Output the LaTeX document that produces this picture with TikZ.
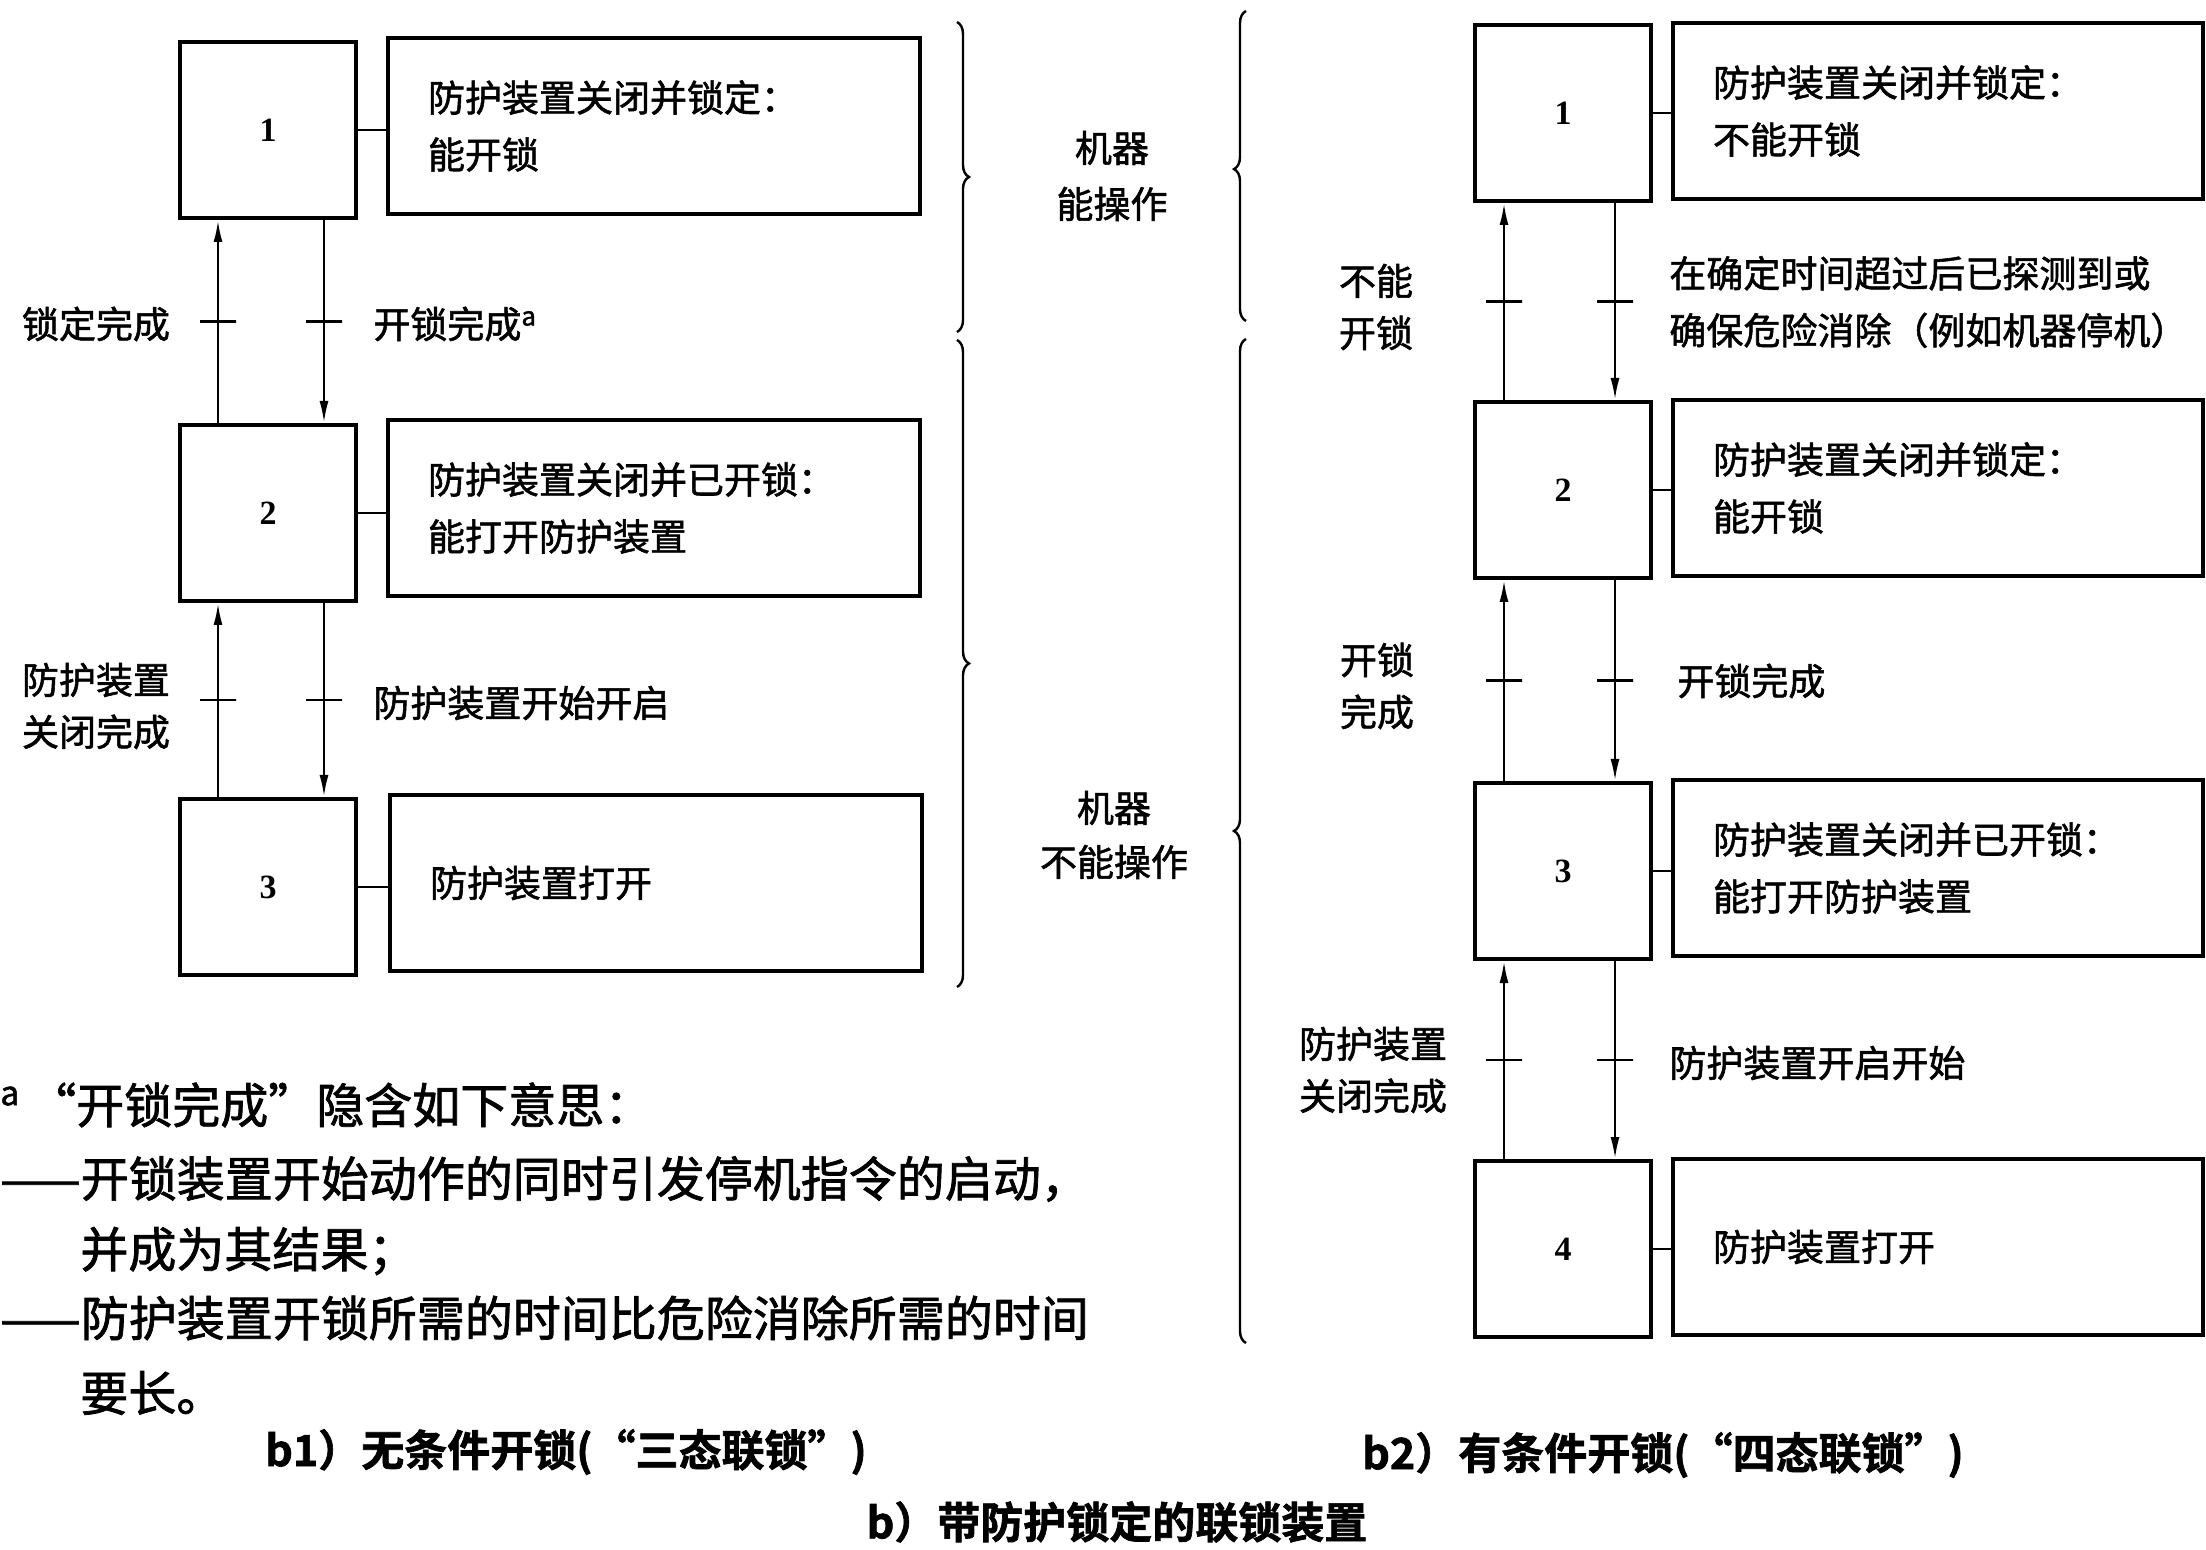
\documentclass[tikz,border=0pt]{standalone}
\usepackage{fontspec}
\setmainfont[FakeBold=1.5,BoldFont={Noto Sans CJK SC Bold}]{Noto Sans CJK SC}
\newfontfamily\numfont{Liberation Serif}
\usetikzlibrary{arrows.meta,decorations.pathreplacing}
\begin{document}
\begin{tikzpicture}[x=0.5pt,y=-0.5pt,
  numbox/.style={draw,line width=2pt,minimum width=88pt,minimum height=88pt,inner sep=0pt,font=\numfont\bfseries\fontsize{17}{17}\selectfont},
  txtbox/.style={draw,line width=2pt,minimum height=88pt,inner xsep=20pt,inner ysep=0pt,align=left,font=\fontsize{18.5}{28.5}\selectfont},
  lbl/.style={inner sep=0pt,font=\fontsize{18.5}{26}\selectfont,align=center},
  fntxt/.style={inner sep=0pt,anchor=west,font=\fontsize{24}{36}\selectfont},
  captxt/.style={inner sep=0pt,font=\bfseries\fontsize{21.5}{24}\selectfont},
  link/.style={line width=1.2pt},
  arr/.style={line width=1.2pt,-{Latex[length=11pt,width=4.5pt]}},
  tickmark/.style={draw,line width=1.2pt,minimum width=18pt,minimum height=0pt,inner sep=0pt},
  brc/.style={line width=1.2pt,decorate},
]
\useasboundingbox[fill=white] (0,0) rectangle (2206,1550);

% ---------- b1 ----------
\node[numbox] (a1) at (268,130) {1};
\node[txtbox,text width=226pt] (ta1) at (654,126) {防护装置关闭并锁定：\\能开锁};
\node[numbox] (a2) at (268,513) {2};
\node[txtbox,text width=226pt] (ta2) at (654,508) {防护装置关闭并已开锁：\\能打开防护装置};
\node[numbox] (a3) at (268,887) {3};
\node[txtbox,text width=226pt] (ta3) at (656,883) {防护装置打开};

\draw[link] (a1.east) -- (a1.east -| ta1.west);
\draw[link] (a2.east) -- (a2.east -| ta2.west);
\draw[link] (a3.east) -- (a3.east -| ta3.west);

\draw[arr] ([xshift=20pt]a2.north west) -- node[tickmark] (ka1) {} ([xshift=20pt]a1.south west);
\draw[arr] ([xshift=-17pt]a1.south east) -- node[tickmark] (ka2) {} ([xshift=-17pt]a2.north east);
\draw[arr] ([xshift=20pt]a3.north west) -- node[tickmark] (ka3) {} ([xshift=20pt]a2.south west);
\draw[arr] ([xshift=-17pt]a2.south east) -- node[tickmark] (ka4) {} ([xshift=-17pt]a3.north east);

\node[lbl] (la1) at (96,324) {锁定完成};
\node[lbl,anchor=west] (la2) at (373,324) {开锁完成\textsuperscript{a}};
\node[lbl] (la3) at (96,706) {防护装置\\关闭完成};
\node[lbl,anchor=west] (la4) at (373,703) {防护装置开始开启};

% ---------- braces ----------
\draw[brc,decoration={brace,amplitude=6pt,aspect=0.5}] (957,22) -- (957,332);
\draw[brc,decoration={brace,amplitude=6pt,aspect=0.5}] (957,340) -- (957,987);
\draw[brc,decoration={brace,amplitude=6pt,aspect=0.49}] (1246,321) -- (1246,11);
\draw[brc,decoration={brace,amplitude=6pt,aspect=0.51}] (1246,1343) -- (1246,339);
\node[lbl,font=\fontsize{18.5}{28}\selectfont] (m1) at (1112,176) {机器\\能操作};
\node[lbl,font=\fontsize{18.5}{27}\selectfont] (m2) at (1114,835) {机器\\不能操作};

% ---------- b2 ----------
\node[numbox] (b1) at (1563,113) {1};
\node[txtbox,text width=225pt] (tb1) at (1938,111) {防护装置关闭并锁定：\\不能开锁};
\node[numbox] (b2) at (1563,490) {2};
\node[txtbox,text width=225pt] (tb2) at (1938,488) {防护装置关闭并锁定：\\能开锁};
\node[numbox] (b3) at (1563,871) {3};
\node[txtbox,text width=225pt] (tb3) at (1938,868) {防护装置关闭并已开锁：\\能打开防护装置};
\node[numbox] (b4) at (1563,1249) {4};
\node[txtbox,text width=225pt] (tb4) at (1938,1247) {防护装置打开};

\draw[link] (b1.east) -- (b1.east -| tb1.west);
\draw[link] (b2.east) -- (b2.east -| tb2.west);
\draw[link] (b3.east) -- (b3.east -| tb3.west);
\draw[link] (b4.east) -- (b4.east -| tb4.west);

\draw[arr] ([xshift=15.5pt]b2.north west) -- node[tickmark] (kb1) {} ([xshift=15.5pt]b1.south west);
\draw[arr] ([xshift=-19pt]b1.south east) -- node[tickmark] (kb2) {} ([xshift=-19pt]b2.north east);
\draw[arr] ([xshift=15.5pt]b3.north west) -- node[tickmark] (kb3) {} ([xshift=15.5pt]b2.south west);
\draw[arr] ([xshift=-19pt]b2.south east) -- node[tickmark] (kb4) {} ([xshift=-19pt]b3.north east);
\draw[arr] ([xshift=15.5pt]b4.north west) -- node[tickmark] (kb5) {} ([xshift=15.5pt]b3.south west);
\draw[arr] ([xshift=-19pt]b3.south east) -- node[tickmark] (kb6) {} ([xshift=-19pt]b4.north east);

\node[lbl] (lb1) at (1376,307) {不能\\开锁};
\node[lbl,anchor=west,align=left,font=\fontsize{18.5}{28.5}\selectfont] (lb2) at (1669,302) {在确定时间超过后已探测到或\\确保危险消除（例如机器停机）};
\node[lbl] (lb3) at (1377,686) {开锁\\完成};
\node[lbl,anchor=west] (lb4) at (1677,681) {开锁完成};
\node[lbl] (lb5) at (1373,1070) {防护装置\\关闭完成};
\node[lbl,anchor=west] (lb6) at (1669,1063) {防护装置开启开始};

% ---------- footnote ----------
\node[fntxt] (f1) at (0,1105) {\textsuperscript{a}\,“开锁完成”隐含如下意思：};
\node[fntxt] (f2) at (0,1179) {——开锁装置开始动作的同时引发停机指令的启动，};
\node[fntxt] (f3) at (80,1251) {并成为其结果；};
\node[fntxt] (f4) at (0,1318) {——防护装置开锁所需的时间比危险消除所需的时间};
\node[fntxt] (f5) at (80,1393) {要长。};

% ---------- captions ----------
\node[captxt] (c1) at (566,1452) {b1）无条件开锁(“三态联锁”)};
\node[captxt] (c2) at (1663,1455) {b2）有条件开锁(“四态联锁”)};
\node[captxt] (c3) at (1117,1522) {b）带防护锁定的联锁装置};
\end{tikzpicture}
\end{document}
